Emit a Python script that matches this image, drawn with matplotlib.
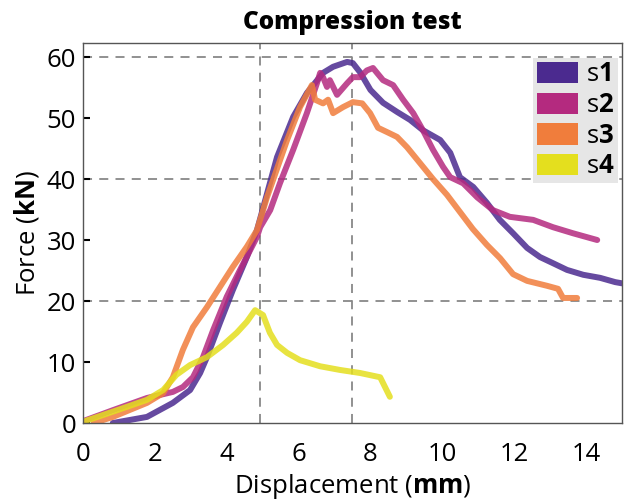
import matplotlib
matplotlib.use("Agg")
import matplotlib.pyplot as plt
from matplotlib.patches import Patch
import numpy as np

plt.rcParams['font.family'] = ['Open Sans', 'DejaVu Sans']
plt.rcParams['mathtext.fontset'] = 'custom'
plt.rcParams['mathtext.rm'] = 'Open Sans'
plt.rcParams['mathtext.bf'] = 'Open Sans:bold'

# s1 (purple)
s1_x = [0.83, 1.78, 2.5, 2.98, 3.26, 3.45, 3.81, 4.17, 4.56, 4.84, 4.93, 5.4, 5.85, 6.23, 6.68,
        6.96, 7.35, 7.51, 7.71, 8.0, 8.35, 8.74, 9.1, 9.46, 9.94, 10.22, 10.49, 10.86, 11.24,
        11.6, 11.97, 12.36, 12.72, 13.08, 13.47, 13.92, 14.39, 14.81, 15.0]
s1_y = [0.0, 1.0, 3.3, 5.4, 8.2, 10.8, 16.4, 21.8, 27.2, 31.6, 33.5, 43.6, 50.2, 54.1, 57.4,
        58.4, 59.2, 59.0, 57.5, 54.6, 52.5, 51.0, 49.7, 48.0, 46.4, 44.3, 40.3, 38.7, 36.1,
        33.3, 31.1, 28.7, 27.2, 26.2, 25.1, 24.3, 23.8, 23.1, 22.9]

# s2 (magenta)
s2_x = [0.0, 0.83, 1.78, 2.5, 2.78, 3.06, 3.34, 3.62, 4.0, 4.37, 4.84, 4.93, 5.21, 5.48, 5.85,
        6.23, 6.51, 6.6, 6.68, 6.79, 6.87, 7.07, 7.35, 7.51, 7.71, 7.9, 8.07, 8.35, 8.63, 8.91,
        9.19, 9.46, 9.74, 10.02, 10.22, 10.58, 10.97, 11.41, 11.88, 12.53, 13.08, 13.64, 14.31]
s2_y = [0.3, 2.1, 4.1, 5.1, 5.9, 7.5, 10.8, 15.2, 20.7, 25.1, 30.5, 32.1, 34.9, 39.3, 44.8,
        50.8, 55.7, 57.4, 56.7, 55.1, 56.2, 53.8, 55.7, 56.7, 56.7, 57.8, 58.2, 56.2, 55.4, 53.0,
        50.8, 48.0, 44.8, 42.0, 40.3, 39.3, 37.0, 34.9, 33.8, 33.3, 32.1, 31.1, 30.0]

# s3 (orange)
s3_x = [0.3, 0.83, 1.78, 2.23, 2.5, 2.78, 3.06, 3.45, 3.81, 4.17, 4.56, 4.84, 5.12, 5.68, 6.04,
        6.37, 6.46, 6.68, 6.82, 6.96, 7.24, 7.51, 7.77, 7.99, 8.21, 8.46, 8.74, 9.02, 9.38,
        9.74, 10.13, 10.49, 10.85, 11.24, 11.61, 11.97, 12.36, 12.91, 13.22, 13.36, 13.75]
s3_y = [0.0, 1.0, 3.3, 4.9, 7.5, 12.0, 15.7, 19.0, 22.3, 25.6, 28.9, 31.6, 37.0, 46.4, 51.8,
        55.4, 53.0, 52.4, 53.0, 50.8, 51.8, 52.6, 52.4, 50.8, 48.4, 47.7, 46.9, 45.2, 42.6,
        40.0, 37.4, 34.6, 31.8, 29.2, 27.0, 24.4, 23.3, 22.5, 22.0, 20.5, 20.5]

# s4 (yellow)
s4_x = [0.0, 1.0, 1.78, 2.23, 2.6, 2.98, 3.45, 3.90, 4.28, 4.56, 4.79, 5.01, 5.2, 5.4, 5.68,
        6.04, 6.6, 7.15, 7.71, 8.27, 8.54]
s4_y = [0.2, 2.2, 3.8, 5.4, 7.9, 9.5, 10.8, 12.8, 14.8, 16.6, 18.5, 17.7, 14.8, 12.8, 11.5,
        10.3, 9.3, 8.7, 8.2, 7.5, 4.3]

names = ['s$\\mathbf{1}$', 's$\\mathbf{2}$', 's$\\mathbf{3}$', 's$\\mathbf{4}$']
colors = ['#4b2a8f', '#b42a7f', '#f07d3c', '#e4df1e']
vlines = [4.93, 7.49]
hlines = [20, 40, 60]

fig = plt.figure(figsize=(6.26, 5.04), dpi=100)
ax = fig.add_axes([0.1326, 0.1607, 0.861, 0.754])

for v in vlines:
    ax.axvline(v, color='#888888', lw=1.3, ls=(0, (5, 4)), zorder=1)
for h in hlines:
    ax.axhline(h, color='#888888', lw=1.3, ls=(0, (5, 4)), zorder=1)

series = [(s1_x, s1_y), (s2_x, s2_y), (s3_x, s3_y), (s4_x, s4_y)]
for (xs, ys), c in zip(series, colors):
    ax.plot(xs, ys, color=c, lw=4.3, alpha=0.85, solid_capstyle='round', zorder=2)

ax.set_xlim(0, 15)
ax.set_ylim(0, 62.3)
ax.set_xticks(np.arange(0, 15, 2))
ax.set_yticks(np.arange(0, 61, 10))
ax.tick_params(axis='x', length=0, labelsize=18.5, pad=14)
ax.tick_params(axis='y', direction='in', length=5, width=1.5, labelsize=18.5, pad=5)
for sp in ax.spines.values():
    sp.set_color('#555555')
    sp.set_linewidth(1)

ax.set_xlabel('Displacement ($\\mathbf{mm}$)', fontsize=18.5, labelpad=3)
ax.set_ylabel('Force ($\\mathbf{kN}$)', fontsize=18.5, labelpad=4)
ax.set_title('Compression test', fontsize=17.5, fontweight='heavy', pad=10)

handles = [Patch(facecolor=c, edgecolor='none') for c in colors]
leg = ax.legend(handles, names, loc='upper right', bbox_to_anchor=(0.9926, 0.9605),
                borderaxespad=0, fontsize=18.5, frameon=True,
                fancybox=False, framealpha=1, facecolor='#e6e6e6', edgecolor='none',
                handlelength=1.6, handleheight=0.9, handletextpad=0.3, labelspacing=0.2,
                borderpad=0.15)

fig.savefig('out.png', dpi=100)
